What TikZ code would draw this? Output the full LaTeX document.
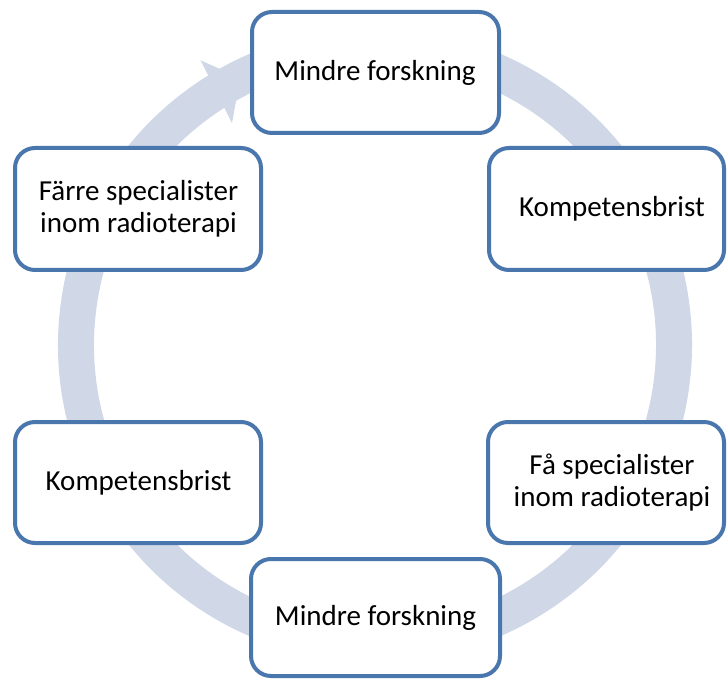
\documentclass[tikz,border=0pt]{standalone}
\usepackage{fontspec}
\setmainfont{Carlito}
\definecolor{ringcol}{RGB}{208,216,232}
\definecolor{boxcol}{RGB}{74,118,174}
\begin{document}
\begin{tikzpicture}[x=1pt,y=1pt,
  cyclebox/.style={draw=boxcol, line width=4pt, fill=white, rounded corners=20pt, inner sep=0pt},
  lbl/.style={align=center, font=\fontsize{29}{31.7}\selectfont, inner sep=0pt}]
\useasboundingbox (0,0) rectangle (728,681);
\coordinate (C) at (375,336);
% circular arrow
\draw[ringcol, line width=36pt] (C) ++(122.5:299) arc[start angle=122.5, end angle=-270, radius=299];
\path (C) +(121.5:334) coordinate (hA) +(116.8:299) coordinate (hT) +(122.8:264) coordinate (hB);
\fill[ringcol] (hA) -- (hT) -- (hB) -- cycle;
% boxes
\node[cyclebox, minimum width=247pt, minimum height=121pt] (b1) at (375.5,608.5) {};
\node[cyclebox, minimum width=235pt, minimum height=122pt] (b2) at (606.5,472) {};
\node[cyclebox, minimum width=236pt, minimum height=121pt] (b3) at (606,198.5) {};
\node[cyclebox, minimum width=249pt, minimum height=117pt] (b4) at (375.5,63.5) {};
\node[cyclebox, minimum width=246pt, minimum height=121pt] (b5) at (138,198.5) {};
\node[cyclebox, minimum width=246pt, minimum height=122pt] (b6) at (138,472) {};
% labels
\node[lbl] (t1) at (375,608.5) {Mindre forskning};
\node[lbl] (t2) at (612,472) {Kompetensbrist};
\node[lbl] (t3) at (612,198.5) {Få specialister\\inom radioterapi};
\node[lbl] (t4) at (375.5,63.5) {Mindre forskning};
\node[lbl] (t5) at (138.5,198.5) {Kompetensbrist};
\node[lbl] (t6) at (138.5,472) {Färre specialister\\inom radioterapi};
\end{tikzpicture}
\end{document}
